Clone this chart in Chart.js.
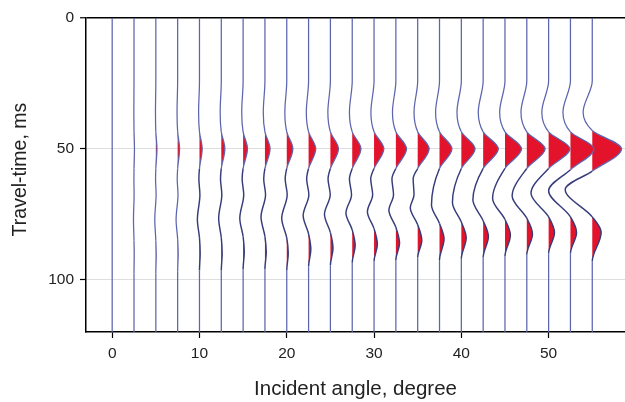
<!DOCTYPE html>
<html><head><meta charset="utf-8">
<script src="https://cdn.jsdelivr.net/npm/chart.js@4.4.1/dist/chart.umd.min.js"></script>
<style>html,body{margin:0;padding:0;background:#fff;}canvas{display:block;}</style>
</head><body>
<canvas id="c" width="625" height="402"></canvas>
<script>
// Incident angle of each trace (degrees)
const angles = [0,2.5,5,7.5,10,12.5,15,17.5,20,22.5,25,27.5,30,32.5,35,37.5,40,42.5,45,47.5,50,52.5,55];
// Wiggle amplitudes (in degrees of trace deflection)
const peakAmp     = [0,0.05,0.13,0.22,0.31,0.41,0.5,0.59,0.7,0.82,0.92,1.0,1.12,1.22,1.31,1.42,1.57,1.74,1.9,2.1,2.44,2.7,3.35]; // at 50 ms
const preLobeAmp  = [0,-0.02,-0.04,-0.07,-0.1,-0.13,-0.16,-0.19,-0.22,-0.26,-0.29,-0.32,-0.36,-0.39,-0.42,-0.45,-0.5,-0.56,-0.61,-0.67,-0.78,-0.86,-1.05]; // ~36 ms
const peakStart   = [43.5,43.5,43.5,43.5,43.5,43.5,43.5,43.5,43.5,43.5,43.5,43.5,43.5,43.5,43.5,43.5,43.5,43.5,43.5,43.5,43.5,43.5,43];
const peakEnd     = [57.5,57.5,57.5,57.5,57.5,57.5,57.5,57.5,57.5,57.5,57.5,57.5,57.5,57.5,57.5,57.5,57.5,57.5,57.5,57.5,57.5,58,58.5];
const sideLobeAmp = [0,-0.01,-0.03,-0.05,-0.07,-0.09,-0.11,-0.14,-0.18,-0.22,-0.27,-0.32,-0.38,-0.45,-0.52,null,null,null,null,null,null,null,null]; // ~61.5 ms
const shoulderAmp = [0,0.01,0.03,0.04,0.05,0.06,0.07,0.07,0.05,0.03,-0.02,-0.08,-0.16,-0.27,-0.42,null,null,null,null,null,null,null,null]; // ~67.5 ms
const troughTime  = [77,77,77,77,77,76.5,76.5,76,76.5,75.5,75,74.5,74,73.5,72.5,71.5,70.5,69.5,69,68,67,66,65.5];
const troughAmp   = [0,-0.06,-0.12,-0.18,-0.24,-0.3,-0.38,-0.45,-0.58,-0.62,-0.68,-0.72,-0.76,-0.8,-0.85,-0.92,-1.02,-1.18,-1.42,-1.68,-2.02,-2.5,-3.1];
const lobeStart   = [85,85,85,84.5,84,84,83.5,83.5,84,82.5,82,81,80.5,80,79,78.5,78,77.5,77,76.5,76,76,76];
const lobeTime    = [91,91,91,90.5,90,90,89.5,89.5,90,88.5,88,87,86.5,86,85,84.5,84,83.5,83,82.5,82,82,82];
const lobeAmp     = [0,0.02,0.04,0.06,0.08,0.1,0.13,0.15,0.17,0.26,0.3,0.34,0.38,0.42,0.47,0.52,0.56,0.6,0.62,0.65,0.67,0.7,1.02];
const lobeEnd     = [97.5,97.5,97.5,97,96.5,96.5,96,96,96.5,95,94.5,93.5,93,92.5,91.5,92.5,92,91.5,91,90.5,90,90,93];
const timeTicks  = [0,50,100];
const angleTicks = [0,10,20,30,40,50];

const FONT = "'Liberation Sans', Arial, Helvetica, sans-serif";
const BLUE = '#5c65ae', DARK = '#363c7a', RED = '#e3132b';

function knots(i) {
  const k = [[0,0],[24,0],[36,preLobeAmp[i]],[peakStart[i],0],[50,peakAmp[i]],[peakEnd[i],0]];
  if (sideLobeAmp[i] !== null) k.push([61.5, sideLobeAmp[i]], [67.5, shoulderAmp[i]]);
  k.push([troughTime[i], troughAmp[i]], [lobeStart[i],0], [lobeTime[i], lobeAmp[i]], [lobeEnd[i],0], [120,0]);
  return k;
}

const datasets = angles.map((a, i) => {
  const k = knots(i);
  const darkSeg = c => {
    const p0 = k[c.p0DataIndex], p1 = k[c.p1DataIndex];
    return p0[0] >= 57 && p0[0] <= 92 && troughAmp[i] <= -0.2 && (p0[1] !== 0 || p1[1] !== 0);
  };
  return {
    data: k.map(p => ({x: a + p[1], y: p[0]})),
    borderColor: BLUE,
    borderWidth: 1.25,
    backgroundColor: 'rgba(0,0,0,0)',
    fill: {value: a},
    pointRadius: 0,
    pointHoverRadius: 0,
    cubicInterpolationMode: 'monotone',
    segment: {
      backgroundColor: c => (k[c.p0DataIndex][1] + k[c.p1DataIndex][1] > 1e-6) ? RED : 'rgba(0,0,0,0)',
      borderColor: c => darkSeg(c) ? DARK : BLUE,
      borderWidth: c => darkSeg(c) ? 1.45 : 1.25
    }
  };
});

new Chart(document.getElementById('c'), {
  type: 'line',
  data: {datasets},
  options: {
    indexAxis: 'y',
    responsive: false,
    animation: false,
    events: [],
    devicePixelRatio: 1,
    layout: {padding: {top: 18, left: 0, right: 0, bottom: 0}},
    plugins: {legend: {display: false}, tooltip: {enabled: false}},
    scales: {
      x: {
        type: 'linear', min: -3, max: 58.75,
        afterFit: s => { s.height = 70; },
        afterBuildTicks: s => { s.ticks = angleTicks.map(v => ({value: v})); },
        ticks: {font: {family: FONT, size: 15.5}, color: '#222', padding: 6, maxRotation: 0, autoSkip: false},
        grid: {drawOnChartArea: false, drawTicks: true, tickLength: 6, tickColor: '#000', tickWidth: 1.2},
        border: {display: true, color: '#000', width: 1.5},
        title: {display: true, text: 'Incident angle, degree', font: {family: FONT, size: 20.5}, color: '#222', padding: {top: 0, bottom: 0}}
      },
      y: {
        type: 'linear', reverse: true, min: 0, max: 120,
        afterFit: s => { s.width = 86; },
        afterBuildTicks: s => { s.ticks = timeTicks.map(v => ({value: v})); },
        ticks: {font: {family: FONT, size: 15.5}, color: '#222', padding: 6},
        grid: {
          color: c => (c.tick && c.tick.value === 0) ? '#000' : '#dedede',
          lineWidth: c => (c.tick && c.tick.value === 0) ? 1.5 : 1,
          drawTicks: true, tickLength: 6, tickColor: '#000', tickWidth: 1.2
        },
        border: {display: true, color: '#000', width: 1.5},
        title: {display: true, text: '  Travel-time, ms', font: {family: FONT, size: 19.5}, color: '#222', padding: {top: 9, bottom: 0}}
      }
    }
  }
});
</script>
</body></html>
